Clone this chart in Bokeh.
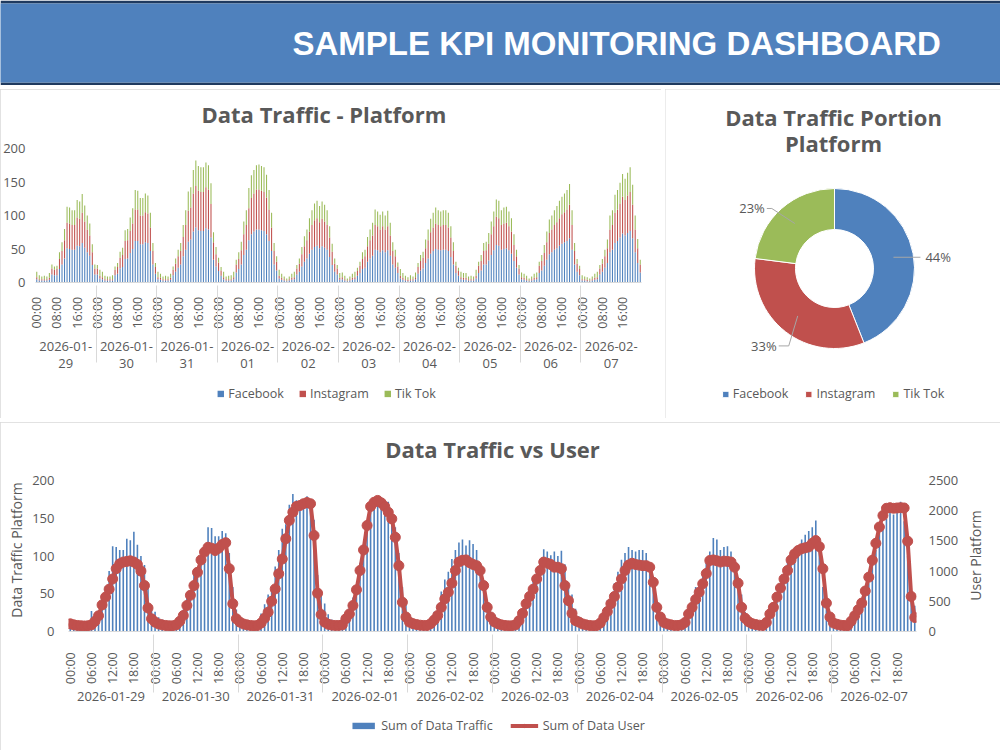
import math
from bokeh.plotting import figure
from bokeh.models import (FactorRange, ColumnDataSource, FixedTicker, Legend, LegendItem,
                          LinearAxis, Range1d, CustomJSTickFormatter)
from bokeh.embed import file_html
from bokeh.resources import INLINE
from bokeh.core.properties import value

# ---------------- data ----------------
dashboard_title = "SAMPLE KPI MONITORING DASHBOARD"
dates = ["2026-01-29", "2026-01-30", "2026-01-31", "2026-02-01", "2026-02-02",
         "2026-02-03", "2026-02-04", "2026-02-05", "2026-02-06", "2026-02-07"]
hours = ["00:00", "01:00", "02:00", "03:00", "04:00", "05:00", "06:00", "07:00",
         "08:00", "09:00", "10:00", "11:00", "12:00", "13:00", "14:00", "15:00",
         "16:00", "17:00", "18:00", "19:00", "20:00", "21:00", "22:00", "23:00"]
top_hour_ticks = ["00:00", "08:00", "16:00"]
bottom_hour_ticks = ["00:00", "06:00", "12:00", "18:00"]
platforms = ["Facebook", "Instagram", "Tik Tok"]
portion = [44, 33, 23]
traffic_ticks = [0, 50, 100, 150, 200]
user_ticks = [0, 500, 1000, 1500, 2000, 2500]

facebook = [
    5, 3, 3, 3, 3, 4, 12, 11, 11, 20, 27, 36, 51, 50, 49, 49, 55, 54, 59, 52, 45, 40, 26, 12,
    12, 6, 5, 3, 3, 3, 3, 11, 13, 21, 23, 35, 36, 44, 50, 62, 62, 57, 57, 60, 59, 47, 27, 13,
    5, 4, 3, 3, 3, 4, 11, 16, 22, 27, 39, 49, 61, 64, 76, 82, 78, 77, 77, 81, 79, 67, 34, 24,
    17, 10, 5, 3, 3, 3, 5, 15, 20, 27, 41, 49, 63, 72, 76, 79, 79, 78, 77, 72, 62, 47, 27, 18,
    6, 4, 3, 2, 3, 4, 5, 12, 16, 24, 31, 36, 43, 49, 53, 55, 51, 54, 52, 49, 38, 26, 16, 12,
    4, 5, 3, 2, 3, 4, 5, 10, 14, 20, 22, 31, 36, 40, 49, 48, 45, 48, 45, 48, 40, 27, 22, 14,
    6, 4, 3, 2, 3, 3, 5, 13, 18, 21, 29, 36, 43, 47, 50, 49, 48, 49, 49, 47, 38, 27, 14, 10,
    5, 4, 4, 3, 3, 3, 6, 14, 18, 27, 27, 33, 41, 48, 56, 55, 49, 50, 51, 48, 43, 32, 22, 12,
    5, 4, 3, 2, 3, 4, 5, 14, 18, 25, 34, 42, 45, 49, 51, 55, 58, 60, 62, 66, 49, 27, 16, 11,
    3, 3, 2, 2, 3, 4, 5, 12, 16, 22, 29, 45, 49, 59, 62, 67, 73, 70, 74, 77, 66, 45, 29, 15,
]
instagram = [
    3, 2, 2, 2, 2, 3, 9, 8, 9, 15, 20, 27, 38, 38, 37, 37, 42, 41, 45, 39, 34, 30, 19, 9,
    9, 4, 3, 2, 2, 2, 2, 8, 10, 16, 18, 27, 27, 33, 38, 47, 47, 43, 43, 45, 44, 35, 20, 10,
    3, 3, 2, 2, 2, 3, 8, 12, 17, 20, 29, 37, 46, 48, 57, 62, 59, 58, 58, 61, 60, 50, 26, 18,
    13, 8, 3, 2, 2, 2, 3, 12, 15, 21, 31, 37, 48, 54, 57, 60, 60, 59, 58, 55, 47, 35, 20, 13,
    4, 3, 2, 1, 2, 3, 3, 9, 12, 18, 23, 27, 33, 37, 40, 41, 39, 41, 39, 37, 29, 20, 12, 9,
    3, 3, 2, 1, 2, 3, 3, 7, 11, 15, 17, 23, 27, 30, 37, 36, 34, 36, 34, 36, 30, 20, 17, 10,
    4, 3, 2, 2, 2, 2, 3, 10, 14, 16, 22, 27, 32, 35, 38, 37, 36, 37, 37, 35, 29, 20, 11, 7,
    3, 3, 3, 2, 2, 2, 4, 11, 14, 20, 21, 25, 31, 36, 42, 41, 37, 38, 38, 36, 33, 24, 17, 9,
    3, 3, 2, 1, 2, 3, 3, 11, 14, 19, 26, 32, 34, 37, 39, 41, 44, 45, 47, 50, 37, 20, 12, 9,
    2, 2, 2, 1, 2, 3, 3, 9, 12, 17, 22, 34, 37, 45, 47, 51, 55, 53, 56, 58, 50, 34, 22, 12,
]
tiktok = [
    8, 6, 4, 5, 4, 7, 6, 5, 5, 10, 13, 17, 24, 24, 22, 22, 26, 26, 28, 24, 21, 18, 12, 6,
    5, 9, 8, 5, 4, 4, 6, 5, 6, 9, 11, 16, 17, 20, 23, 29, 28, 26, 26, 28, 27, 22, 12, 6,
    8, 6, 4, 5, 4, 6, 5, 8, 10, 12, 18, 22, 29, 30, 35, 38, 37, 37, 37, 37, 36, 31, 15, 11,
    7, 5, 8, 4, 5, 6, 8, 7, 10, 13, 19, 22, 30, 34, 35, 36, 37, 37, 37, 34, 29, 22, 12, 8,
    9, 6, 4, 3, 4, 6, 8, 5, 8, 11, 15, 16, 20, 22, 25, 26, 24, 26, 25, 22, 17, 12, 8, 5,
    7, 7, 5, 3, 4, 6, 8, 5, 6, 10, 10, 14, 16, 19, 23, 22, 22, 22, 21, 23, 19, 13, 10, 6,
    10, 7, 5, 4, 6, 4, 7, 6, 9, 9, 13, 16, 20, 22, 24, 22, 22, 22, 22, 22, 17, 13, 6, 5,
    8, 7, 7, 4, 5, 4, 9, 6, 9, 12, 13, 16, 19, 22, 26, 26, 22, 24, 24, 22, 20, 16, 10, 5,
    7, 6, 5, 3, 4, 6, 7, 6, 9, 12, 16, 20, 21, 22, 24, 26, 26, 28, 29, 31, 22, 12, 7, 5,
    6, 4, 4, 3, 4, 6, 8, 5, 7, 10, 13, 21, 22, 27, 29, 31, 34, 32, 34, 37, 30, 21, 14, 7,
]
users = [
    127, 110, 100, 95, 92, 95, 110, 170, 260, 440, 570, 700, 870, 1040, 1120, 1150, 1160, 1170, 1150, 1110, 1000, 760, 390, 210,
    155, 125, 110, 100, 95, 95, 110, 170, 265, 430, 600, 760, 980, 1185, 1315, 1395, 1380, 1340, 1380, 1440, 1470, 1040, 460, 210,
    155, 125, 110, 100, 95, 100, 140, 220, 320, 500, 705, 955, 1200, 1535, 1840, 1975, 2070, 2085, 2115, 2135, 2115, 1590, 635, 280,
    155, 120, 105, 100, 100, 110, 210, 290, 430, 690, 1010, 1350, 1755, 2070, 2140, 2170, 2130, 2070, 1975, 1865, 1560, 1090, 485, 240,
    155, 130, 115, 105, 100, 100, 130, 190, 265, 400, 540, 650, 800, 1010, 1150, 1180, 1185, 1140, 1110, 1090, 1010, 760, 400, 240,
    160, 130, 110, 100, 95, 95, 110, 180, 300, 460, 580, 700, 870, 1010, 1150, 1130, 1110, 1065, 1065, 1040, 760, 510, 300, 180,
    155, 125, 110, 100, 95, 100, 140, 230, 330, 460, 580, 735, 870, 1010, 1100, 1130, 1110, 1100, 1090, 1090, 1065, 815, 400, 240,
    150, 125, 110, 100, 100, 110, 150, 290, 400, 530, 650, 790, 960, 1175, 1185, 1170, 1150, 1165, 1160, 1150, 1065, 800, 400, 220,
    160, 130, 115, 105, 100, 150, 290, 400, 570, 720, 870, 1010, 1185, 1285, 1340, 1370, 1385, 1400, 1460, 1505, 1405, 1040, 470, 240,
    140, 120, 105, 100, 95, 170, 260, 360, 470, 670, 900, 1180, 1460, 1730, 1920, 2040, 2050, 2040, 2045, 2050, 2045, 1495, 580, 232,
]

# ---------------- style ----------------
GRAY = "#595959"
AXIS = "#D9D9D9"
BLUE, RED, GREEN = "#4F81BD", "#C0504D", "#9BBB59"
FONT = "Open Sans"


def place(fig, left, top, outline=True):
    st = {"position": "absolute", "left": f"{left}px", "top": f"{top}px"}
    if outline:
        st.update({"outline": "1px solid #D9D9D9", "outline-offset": "-1px"})
    fig.styles = st


def bare_fig(width, height):
    f = figure(width=width, height=height, x_range=Range1d(0, 1), y_range=Range1d(0, 1),
               x_axis_type=None, y_axis_type=None, toolbar_location=None, tools="",
               output_backend="svg", min_border=0)
    f.outline_line_color = None
    f.background_fill_alpha = 0
    f.border_fill_alpha = 0
    return f


def style_title(p):
    p.title.text_font = FONT
    p.title.text_font_size = "22px"
    p.title.text_font_style = "bold"
    p.title.text_color = GRAY


def style_cat_axis(ax, shown, pad):
    ax.formatter = CustomJSTickFormatter(args=dict(shown=shown, pad=pad),
                                         code="return shown.includes(tick) ? pad + tick : ''")
    ax.major_label_orientation = math.pi / 2
    ax.major_label_text_font = FONT
    ax.major_label_text_font_size = "12.5px"
    ax.major_label_text_color = GRAY
    ax.major_tick_line_color = None
    ax.axis_line_color = AXIS
    ax.separator_line_color = AXIS
    ax.separator_line_width = 1
    ax.group_text_font = FONT
    ax.group_text_font_size = "13px"
    ax.group_text_font_style = "normal"
    ax.group_text_color = GRAY


def style_val_axis(ax, standoff):
    ax.axis_line_color = None
    ax.major_tick_line_color = None
    ax.minor_tick_line_color = None
    ax.major_tick_out = 0
    ax.major_tick_in = 0
    ax.major_label_text_font = FONT
    ax.major_label_text_font_size = "13px"
    ax.major_label_text_color = GRAY
    ax.major_label_standoff = standoff


def legend_style(**kw):
    d = dict(orientation="horizontal", location="center", border_line_color=None,
             background_fill_alpha=0, label_text_font=FONT, label_text_font_size="12.5px",
             label_text_color=GRAY, label_standoff=4, padding=0, margin=0)
    d.update(kw)
    return d


# ---------------- header ----------------
hdr = figure(width=1000, height=85, x_range=Range1d(0, 1000), y_range=Range1d(0, 79),
             x_axis_type=None, y_axis_type=None, toolbar_location=None, tools="",
             output_backend="svg", min_border_left=0, min_border_right=0,
             min_border_top=3, min_border_bottom=3)
hdr.background_fill_color = BLUE
hdr.border_fill_color = "#1F3A5F"
hdr.outline_line_color = None
hdr.text(x=[292], y=[39.5], text=[dashboard_title], text_font=value("Liberation Sans"),
         text_font_style="bold", text_font_size="33px", text_color="white",
         text_baseline="middle", text_align="left")
place(hdr, 0, 0, outline=False)

# ---------------- stacked bars (top-left) ----------------
top_groups = [d[:8] + "\n" + d[8:] for d in dates]
top_x = [(g, h) for g in top_groups for h in hours]
tsrc = ColumnDataSource(dict(x=top_x, fb=facebook, ig=instagram, tt=tiktok))

top = figure(width=661, height=329, title="Data Traffic - Platform",
             x_range=FactorRange(factors=top_x, factor_padding=0, group_padding=0, range_padding=0),
             y_range=Range1d(0, 222.4), toolbar_location=None, tools="", output_backend="svg",
             min_border_left=32, min_border_right=20, min_border_top=44, min_border_bottom=136)
place(top, 0, 89)
stack = top.vbar_stack(["fb", "ig", "tt"], x="x", width=0.42, source=tsrc,
                       fill_color=[BLUE, RED, GREEN], line_color=None)
style_title(top)
top.title.align = "left"
top.title.offset = 166
top.outline_line_color = None
top.grid.visible = False
style_cat_axis(top.xaxis[0], top_hour_ticks, " ")
top.xaxis[0].group_text_line_height = 0.95
ya = top.yaxis[0]
ya.ticker = FixedTicker(ticks=traffic_ticks)
style_val_axis(ya, 10)

# legend for top chart (separate canvas; swatch renderers sit outside its visible range)
tleg = bare_fig(330, 22)
place(tleg, 161, 382, outline=False)
sw = [tleg.vbar(x=[-5], top=[0], width=0.5, fill_color=c, line_color=None) for c in (BLUE, RED, GREEN)]
tleg.add_layout(Legend(items=[LegendItem(label=platforms[i], renderers=[sw[i]]) for i in range(3)],
                       **legend_style(glyph_width=8, glyph_height=8, spacing=14)))

# ---------------- donut (top-right) ----------------
dn = figure(width=335, height=329, x_range=Range1d(0, 335), y_range=Range1d(0, 329),
            x_axis_type=None, y_axis_type=None, toolbar_location=None, tools="",
            output_backend="svg", min_border=0)
place(dn, 665, 89)
dn.outline_line_color = None
cx, cy = 169, 150
total = sum(portion)
starts, ends, mids = [], [], []
cum = 0
for v in portion:
    a0 = math.pi / 2 - 2 * math.pi * cum / total
    cum += v
    a1 = math.pi / 2 - 2 * math.pi * cum / total
    starts.append(a0); ends.append(a1); mids.append((a0 + a1) / 2)
dsrc = ColumnDataSource(dict(start=starts, end=ends, color=[BLUE, RED, GREEN], label=platforms))
wedges = dn.annular_wedge(x=cx, y=cy, inner_radius=39, outer_radius=80, start_angle="start",
                          end_angle="end", direction="clock", fill_color="color",
                          line_color="white", line_width=1, source=dsrc)
leader_paths = [[(0, 0), (27, 0)], [(0, 0), (-9, -30), (-19, -30)], [(0, 0), (-23, 15), (-28, 15)]]
label_offsets = [(32, 0, "left"), (-21, -30, "right"), (-30, 15, "right")]
lx, ly, lxs, lys, ltxt, lal = [], [], [], [], [], []
for i, v in enumerate(portion):
    sx = cx + 60 * math.cos(mids[i])
    sy = cy + 60 * math.sin(mids[i])
    lxs.append([sx + dx for dx, dy in leader_paths[i]])
    lys.append([sy + dy for dx, dy in leader_paths[i]])
    ox, oy, al = label_offsets[i]
    lx.append(sx + ox); ly.append(sy + oy); lal.append(al)
    ltxt.append(f"{round(100 * v / total)}%")
dn.multi_line(xs=lxs, ys=lys, line_color="#A6A6A6", line_width=1)
dn.text(x=lx, y=ly, text=ltxt, text_align=lal, text_baseline="middle",
        text_font=value(FONT), text_font_size="13px", text_color=GRAY)
dn.text(x=[168, 168], y=[302, 276], text=["Data Traffic Portion", "Platform"],
        text_align="center", text_baseline="middle", text_font=value(FONT),
        text_font_size="22px", text_font_style="bold", text_color=GRAY)
dn.add_layout(Legend(items=[LegendItem(label=platforms[i], renderers=[wedges], index=i) for i in range(3)],
                     **legend_style(location="bottom_center", glyph_width=8, glyph_height=8,
                                    spacing=16, margin=16)))

# ---------------- traffic vs user (bottom) ----------------
traffic = [f + i + t for f, i, t in zip(facebook, instagram, tiktok)]
bot_x = [(d, h) for d in dates for h in hours]
bsrc = ColumnDataSource(dict(x=bot_x, traffic=traffic, users=users))

bot = figure(width=1000, height=328, title="Data Traffic vs User",
             x_range=FactorRange(factors=bot_x, factor_padding=0, group_padding=0, range_padding=0),
             y_range=Range1d(0, 215.9), toolbar_location=None, tools="", output_backend="svg",
             min_border_left=68, min_border_right=84, min_border_top=46, min_border_bottom=119)
place(bot, 0, 422)
bot.extra_y_ranges = {"users": Range1d(0, 2698.7)}
bot.outline_line_color = None
bot.grid.visible = False
style_title(bot)
bot.title.align = "center"
bars = bot.vbar(x="x", top="traffic", width=0.45, source=bsrc, fill_color=BLUE, line_color=None)
uline = bot.line(x="x", y="users", source=bsrc, y_range_name="users", line_color=RED, line_width=4)
upts = bot.scatter(x="x", y="users", source=bsrc, y_range_name="users", size=10,
                   fill_color=RED, line_color=RED)
style_cat_axis(bot.xaxis[0], bottom_hour_ticks, "   ")

ly_ax = bot.yaxis[0]
ly_ax.ticker = FixedTicker(ticks=traffic_ticks)
style_val_axis(ly_ax, 14)
ly_ax.axis_label = "Data Traffic Platform"
ly_ax.axis_label_text_font = FONT
ly_ax.axis_label_text_font_size = "14px"
ly_ax.axis_label_text_font_style = "normal"
ly_ax.axis_label_text_color = GRAY
ly_ax.axis_label_standoff = 3

ry_ax = LinearAxis(y_range_name="users", ticker=FixedTicker(ticks=user_ticks))
bot.add_layout(ry_ax, "right")
style_val_axis(ry_ax, 12)

# right axis title (rotated to read bottom-to-top, as in the reference)
rtitle = bare_fig(26, 140)
place(rtitle, 962, 485, outline=False)
rtitle.text(x=[0.5], y=[0.5], text=["User Platform"], angle=math.pi / 2, text_align="center",
            text_baseline="middle", text_font=value(FONT), text_font_size="14px",
            text_color=GRAY)

# legend for bottom chart (separate canvas; swatch renderers sit outside its visible range)
bleg = bare_fig(360, 24)
place(bleg, 317, 713, outline=False)
sw_bar = bleg.vbar(x=[-5], top=[0], width=0.5, fill_color=BLUE, line_color=None)
sw_line = bleg.line(x=[-5, -4], y=[-5, -5], line_color=RED, line_width=4)
sw_pts = bleg.scatter(x=[-5], y=[-5], size=10, fill_color=RED, line_color=RED)
bleg.add_layout(Legend(items=[LegendItem(label="Sum of Data Traffic", renderers=[sw_bar]),
                              LegendItem(label="Sum of Data User", renderers=[sw_line, sw_pts])],
                       **legend_style(glyph_width=28, glyph_height=8, spacing=18)))

open("out.html", "w").write(file_html([hdr, top, dn, bot, tleg, bleg, rtitle], INLINE))
